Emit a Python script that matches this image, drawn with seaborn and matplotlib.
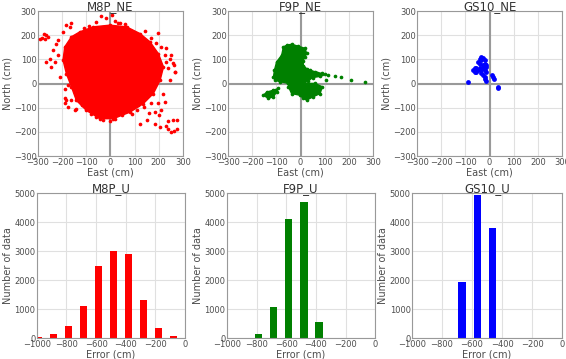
import numpy as np
import pandas as pd
import matplotlib
matplotlib.use("Agg")
import matplotlib.pyplot as plt
import seaborn as sns

# ---- horizontal error (East / North, cm) ----
# dense core outline of M8P cloud
m8p_core_e = [-127, -71, -2, 67, 123, 164, 199, 220, 206, 178, 136, 81, 12, -44, -99, -141, -161, -182, -196, -189, -161]
m8p_core_n = [214, 235, 242, 235, 207, 173, 124, 69, 14, -41, -83, -118, -145, -145, -111, -69, -14, 41, 97, 152, 194]
# scattered M8P points around the core
m8p_pts_e = [-285, -275, -265, -292, -270, -260, -224, -238, -251, -265, -231, -244, -217, -182, -168, -161,
             -196, -217, -210, -189, -161, -141, -182, -175, -147, -188, -188, -175, -147, -133, -119,
             -37, -20, 5, 20, -60, 40, 60, -90, -110,
             198, 232, 260, 267, 239, 225, 143, 32, 170, 190, 210, 250, 245, 230, 262, 268, 248,
             122, 150, 184, 205, 239, 260, 274, 184, 198, 219, 225, 170, 143, 115, 275, 265, 250, 230,
             200, 210, 160, 240, 0, -30, 20, -60, 50, 90, 110, -80, 140, 175]
m8p_pts_n = [190, 205, 200, 185, 185, 195, 166, 138, 104, 90, 90, 69, 118, 242, 235, 249,
             214, 180, 28, -21, -69, -104, -69, -6, -34, -61, -82, -96, -110, -68, -89,
             279, 270, 285, 260, 255, 250, 245, 240, 232,
             209, 147, 85, 50, 64, 119, 216, 250, 190, 170, 150, 120, 100, 90, 76, 48, 14,
             -165, -151, -165, -179, -186, -151, -186, -117, -82, -41, -75, -82, -61, -89, -150, -195, -200, -175,
             -130, -110, -120, -155, -155, -150, -145, -140, -130, -125, -110, -125, -95, -20]

# F9P blobs
f9p_main_e = [-57, -37, -10, 19, 25, 19, 10, 12, 25, 39, 60, 88, 80, 50, 30, 10, -50, -85, -106, -112, -108, -99, -78, -71]
f9p_main_n = [159, 163, 155, 146, 125, 111, 95, 75, 62, 56, 49, 42, 30, 25, 10, 0, 1, 8, 14, 28, 56, 90, 118, 152]
f9p_low_e = [-50, 60, 90, 81, 53, 25, 10, -2, -37, -50]
f9p_low_n = [1, 1, -13, -41, -54, -68, -60, -48, -41, -13]
f9p_left_e = [-154, -140, -112, -92, -99, -112, -133]
f9p_left_n = [-48, -35, -27, -20, -34, -54, -61]
f9p_pts_e = [70, 90, 100, 115, 106, 143, 168, 209, 267]
f9p_pts_n = [45, 38, 40, 35, 14, 32, 26, 14, 5]

# GS10 points
gs10_e = [-34, -28, -41, -48, -34, -21, -41, -28, -14, -55, -48, -62, -69, -55, -41, -34, -28, -21,
          -14, -34, -28, -21, -14, -21, -62, -90, -14, -18, 14, 17, 12, 34, 34]
gs10_n = [111, 105, 100, 90, 97, 83, 83, 76, 76, 63, 56, 49, 56, 49, 63, 56, 63, 56,
          49, 42, 35, 28, 70, 97, 63, 8, 12, 18, 28, 20, 35, -16, -12]

# ---- vertical error histograms (bar centres in cm, counts) ----
m8p_u_centres = [-989, -888, -786, -685, -583, -482, -381, -279, -178, -77]
m8p_u_counts = [30, 160, 420, 1120, 2500, 3020, 2900, 1330, 340, 70]
f9p_u_centres = [-786, -685, -583, -482, -381]
f9p_u_counts = [150, 1080, 4110, 4690, 560]
gs10_u_centres = [-665, -565, -465]
gs10_u_counts = [1940, 4930, 3800]

sns.set_style("whitegrid")
plt.rcParams.update({
    "axes.edgecolor": "0.6",
    "grid.color": "0.88",
    "text.color": "0.2",
    "axes.labelcolor": "0.3",
    "xtick.color": "0.3",
    "ytick.color": "0.3",
    "font.size": 6,
})
plt.rcParams["font.family"] = ["DejaVu Sans"]

fig = plt.figure(figsize=(5.66, 3.59), dpi=100)

top_pos = [[0.067, 0.565, 0.256, 0.404], [0.403, 0.565, 0.256, 0.404], [0.737, 0.565, 0.256, 0.404]]
bot_pos = [[0.065, 0.058, 0.262, 0.404], [0.401, 0.058, 0.262, 0.404], [0.728, 0.058, 0.265, 0.404]]


def ne_axes(ax, title):
    ax.axhline(0, color="0.6", lw=1.5, zorder=1)
    ax.axvline(0, color="0.6", lw=1.5, zorder=1)
    ax.set_xlim(-300, 300)
    ax.set_ylim(-300, 300)
    ax.set_xticks(range(-300, 301, 100))
    ax.set_yticks(range(-300, 301, 100))
    ax.set_title(title, fontsize=8.5, pad=1)
    ax.set_xlabel("East (cm)", fontsize=7, labelpad=1)
    ax.set_ylabel("North (cm)", fontsize=7, labelpad=1)
    ax.tick_params(labelsize=6, pad=1, length=0)


# M8P_NE
ax = fig.add_axes(top_pos[0])
ax.fill(m8p_core_e, m8p_core_n, color="red", zorder=2)
sns.scatterplot(x=m8p_core_e + m8p_pts_e, y=m8p_core_n + m8p_pts_n, color="red", s=7,
                linewidth=0, ax=ax, zorder=3)
ne_axes(ax, "M8P_NE")

# F9P_NE
ax = fig.add_axes(top_pos[1])
for ee, nn in [(f9p_main_e, f9p_main_n), (f9p_low_e, f9p_low_n), (f9p_left_e, f9p_left_n)]:
    ax.fill(ee, nn, color="green", zorder=2)
    sns.scatterplot(x=ee, y=nn, color="green", s=7, linewidth=0, ax=ax, zorder=3)
sns.scatterplot(x=f9p_pts_e, y=f9p_pts_n, color="green", s=7, linewidth=0, ax=ax, zorder=3)
ne_axes(ax, "F9P_NE")

# GS10_NE
ax = fig.add_axes(top_pos[2])
sns.scatterplot(x=gs10_e, y=gs10_n, color="blue", s=12, linewidth=0, ax=ax, zorder=3)
ne_axes(ax, "GS10_NE")


def u_axes(ax, centres, counts, colour, title):
    df = pd.DataFrame({"err": centres, "n": counts})
    bw = 101.5
    sns.histplot(data=df, x="err", weights="n", binwidth=bw,
                 binrange=(min(centres) - bw / 2, max(centres) + bw / 2),
                 shrink=0.5, color=colour, alpha=1, linewidth=0, ax=ax)
    ax.set_xlim(-1000, 0)
    ax.set_ylim(0, 5000)
    ax.set_xticks(range(-1000, 1, 200))
    ax.set_yticks(range(0, 5001, 1000))
    ax.set_title(title, fontsize=8.5, pad=1)
    ax.set_xlabel("Error (cm)", fontsize=7, labelpad=1)
    ax.set_ylabel("Number of data", fontsize=7, labelpad=1)
    ax.tick_params(labelsize=6, pad=1, length=0)


u_axes(fig.add_axes(bot_pos[0]), m8p_u_centres, m8p_u_counts, "red", "M8P_U")
u_axes(fig.add_axes(bot_pos[1]), f9p_u_centres, f9p_u_counts, "green", "F9P_U")
u_axes(fig.add_axes(bot_pos[2]), gs10_u_centres, gs10_u_counts, "blue", "GS10_U")

fig.savefig("out.png", dpi=100)
